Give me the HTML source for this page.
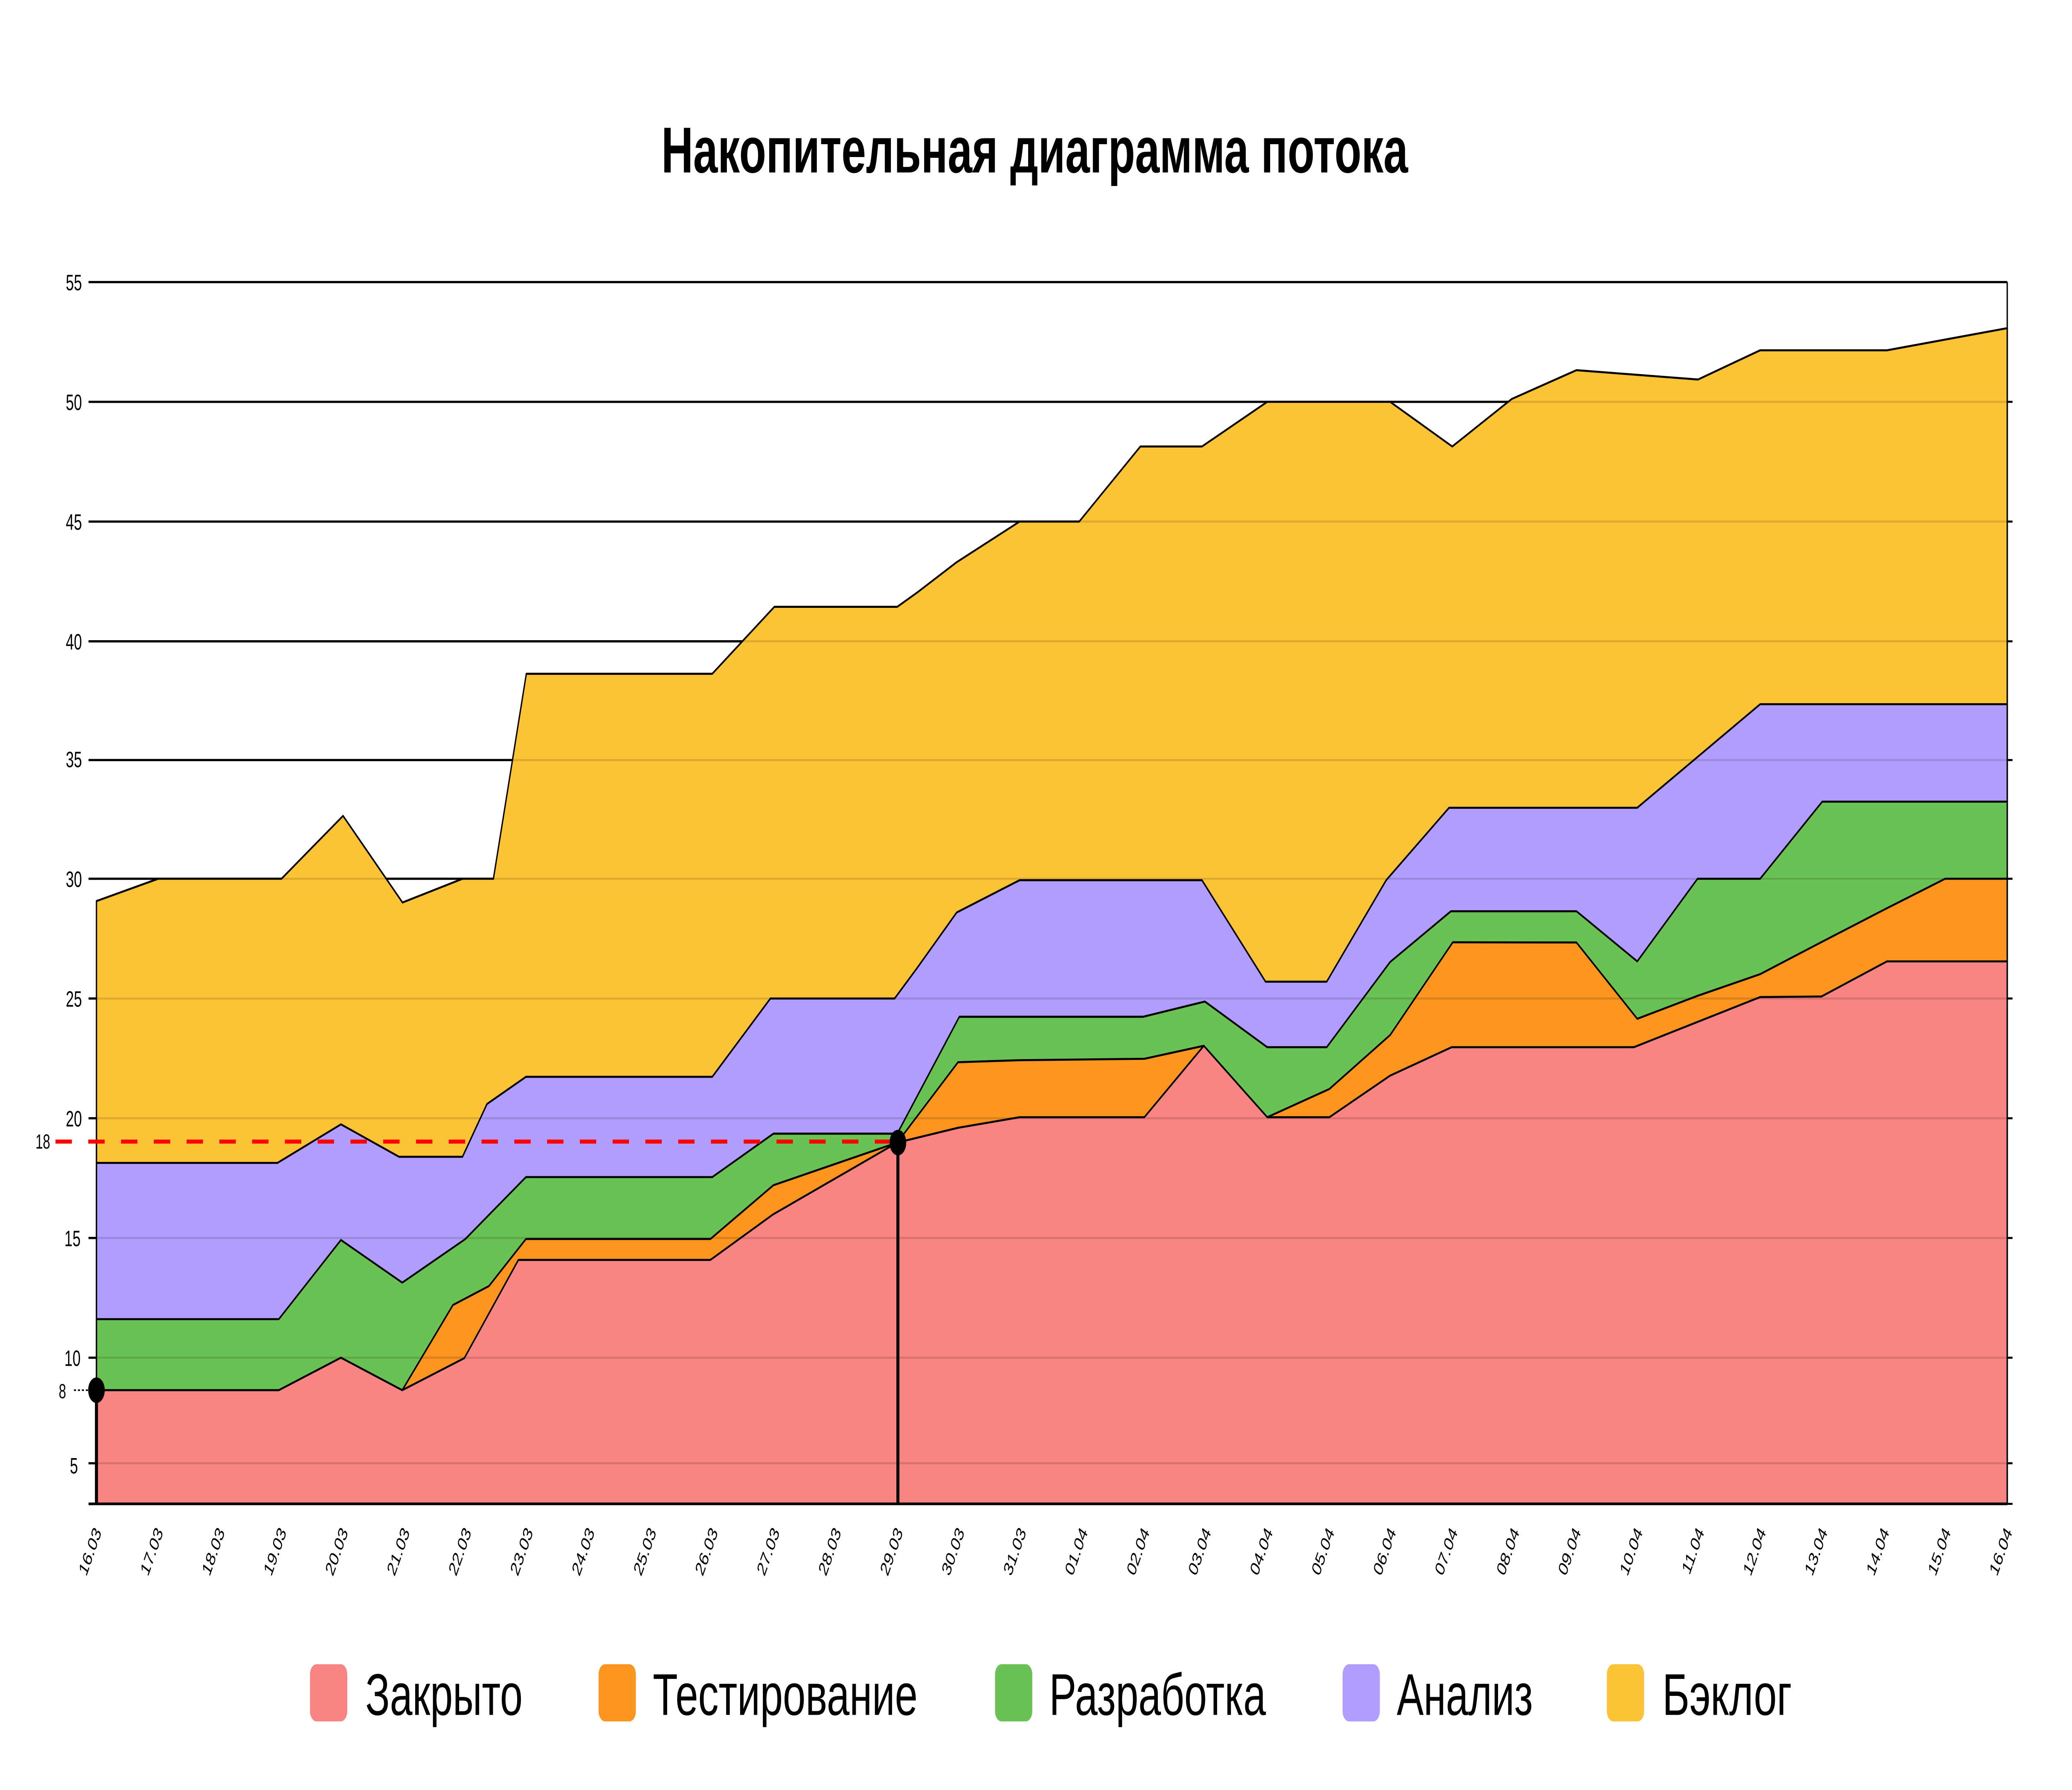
<!DOCTYPE html>
<html><head><meta charset="utf-8"><style>
html,body{margin:0;padding:0;background:#fff;overflow:hidden;width:100vw;height:100vh;}
svg{display:block;width:100vw;height:100vh;}
</style></head><body>
<svg viewBox="0 0 1568 882" preserveAspectRatio="none" xmlns="http://www.w3.org/2000/svg" font-family="Liberation Sans, sans-serif">
<rect width="1568" height="882" fill="#fff"/>
<text x="783" y="85" text-anchor="middle" font-size="32" font-weight="bold" textLength="565" lengthAdjust="spacingAndGlyphs">Накопительная диаграмма потока</text>
<g stroke="#000" stroke-width="1.1">
<line x1="67" y1="139" x2="1519" y2="139"/><line x1="67" y1="198" x2="1519" y2="198"/>
<line x1="67" y1="257" x2="1519" y2="257"/><line x1="67" y1="316" x2="1519" y2="316"/>
<line x1="67" y1="374.5" x2="1519" y2="374.5"/><line x1="67" y1="433" x2="1519" y2="433"/>
<line x1="67" y1="492" x2="1519" y2="492"/><line x1="67" y1="551" x2="1519" y2="551"/>
<line x1="67" y1="610" x2="1519" y2="610"/><line x1="67" y1="669" x2="1519" y2="669"/>
<line x1="67" y1="721" x2="1519" y2="721"/>
</g>
<g stroke="#000" stroke-width="1" stroke-linejoin="round">
<polygon fill="#fdc337" points="73,444 119.7,433 213,433 259.6,402 304.6,444.7 350,433 373.4,433 398.3,332 539,332 586,299 679,299 694,292 724,277 771.6,257 816.7,257 863,220 909.6,220 959,198 1052,198 1099,220 1144,196.6 1193,182.4 1285,187 1332,172.6 1428,172.6 1519,161.7 1519,741 73,741"/>
<polygon fill="#b19dfd" points="73,573 210,573 258,554 302,570 350,570 368.5,544 398,530.6 539,530.6 583,492 677,492 694,477 724,449.6 771.6,433.7 909.6,433.7 957.7,483.7 1004,483.7 1049,433.7 1096.6,398 1239,398 1332,347 1519,347 1519,741 73,741"/>
<polygon fill="#6bc254" points="73,650 211,650 258,611 304.4,632 352,610.6 398,580 539,580 585.3,558.6 679,558.6 726,501 865,501 911.8,493.5 959,516 1004,516 1052,474 1098,449 1193,449 1239,473.7 1284.6,433 1332,433 1379,395 1519,395 1519,741 73,741"/>
<polygon fill="#fb951f" points="73,685 211,685 258,669 304.4,685 342.8,643 370,633.7 398,610.5 537.6,610.5 585.3,584 679,563 725,523.4 771.6,522.4 866,521.7 911,515.3 959,550.5 1006,536.6 1052,510 1099.4,464.3 1193,464.4 1239,502 1285,490.6 1332,480 1379,464 1428,447.5 1472,433 1519,433 1519,741 73,741"/>
<polygon fill="#f88484" points="73,685 211,685 258,669 304.4,685 351.4,669.2 392.3,620.8 537.6,620.8 585,598.4 679,563 725,555.7 771.6,550.5 866,550.5 911,515.3 959,550.5 1006,550.5 1052,530 1098.5,516 1236.4,516 1332,491.3 1378.4,491 1428,473.7 1519,473.7 1519,741 73,741"/>
</g>
<g stroke="#000" stroke-opacity="0.13" stroke-width="1">
<line x1="73" y1="198" x2="1519" y2="198"/><line x1="73" y1="257" x2="1519" y2="257"/>
<line x1="73" y1="316" x2="1519" y2="316"/><line x1="73" y1="374.5" x2="1519" y2="374.5"/>
<line x1="73" y1="433" x2="1519" y2="433"/><line x1="73" y1="492" x2="1519" y2="492"/>
<line x1="73" y1="551" x2="1519" y2="551"/><line x1="73" y1="610" x2="1519" y2="610"/>
<line x1="73" y1="669" x2="1519" y2="669"/><line x1="73" y1="721" x2="1519" y2="721"/>
</g>
<g stroke="#000" stroke-width="1">
<line x1="1519" y1="139" x2="1519" y2="741"/>
<line x1="1519" y1="198" x2="1523" y2="198"/><line x1="1519" y1="257" x2="1523" y2="257"/>
<line x1="1519" y1="316" x2="1523" y2="316"/><line x1="1519" y1="374.5" x2="1523" y2="374.5"/>
<line x1="1519" y1="433" x2="1523" y2="433"/><line x1="1519" y1="492" x2="1523" y2="492"/>
<line x1="1519" y1="551" x2="1523" y2="551"/><line x1="1519" y1="610" x2="1523" y2="610"/>
<line x1="1519" y1="669" x2="1523" y2="669"/><line x1="1519" y1="721" x2="1523" y2="721"/>
<line x1="1519" y1="741" x2="1523" y2="741"/>
<line x1="67" y1="610" x2="73" y2="610"/><line x1="67" y1="669" x2="73" y2="669"/><line x1="67" y1="721" x2="73" y2="721"/>
</g>
<line x1="67" y1="741" x2="1519" y2="741" stroke="#000" stroke-width="1.3"/>
<line x1="73" y1="551" x2="73" y2="741" stroke="#000" stroke-width="1"/>
<g font-size="11" text-anchor="end" fill="#000">
<text x="62" y="143">55</text><text x="62" y="202">50</text><text x="62" y="261">45</text>
<text x="62" y="320">40</text><text x="62" y="378">35</text><text x="62" y="437">30</text>
<text x="62" y="496">25</text><text x="62" y="555">20</text><text x="61" y="614">15</text>
<text x="61" y="673">10</text><text x="59" y="726">5</text>
<text x="38" y="566" font-size="10">18</text><text x="50" y="689" font-size="10">8</text>
</g>
<line x1="42" y1="562.5" x2="679" y2="562.5" stroke="#f00" stroke-width="2" stroke-dasharray="12.4,12.4"/>
<line x1="56" y1="685" x2="73" y2="685" stroke="#000" stroke-width="0.8" stroke-dasharray="1.5,1.5"/>
<line x1="73" y1="685" x2="73" y2="741" stroke="#000" stroke-width="2.3"/>
<line x1="679.5" y1="563" x2="679.5" y2="741" stroke="#000" stroke-width="2.3"/>
<circle cx="73" cy="685" r="6.3" fill="#000"/>
<circle cx="679.5" cy="563" r="6.3" fill="#000"/>
<g font-size="10" text-anchor="end" fill="#000">
<text transform="translate(77,755) rotate(-62)">16.03</text>
<text transform="translate(123.7,755) rotate(-62)">17.03</text>
<text transform="translate(170.3,755) rotate(-62)">18.03</text>
<text transform="translate(217,755) rotate(-62)">19.03</text>
<text transform="translate(263.6,755) rotate(-62)">20.03</text>
<text transform="translate(310.3,755) rotate(-62)">21.03</text>
<text transform="translate(356.9,755) rotate(-62)">22.03</text>
<text transform="translate(403.6,755) rotate(-62)">23.03</text>
<text transform="translate(450.2,755) rotate(-62)">24.03</text>
<text transform="translate(496.9,755) rotate(-62)">25.03</text>
<text transform="translate(543.5,755) rotate(-62)">26.03</text>
<text transform="translate(590.2,755) rotate(-62)">27.03</text>
<text transform="translate(636.8,755) rotate(-62)">28.03</text>
<text transform="translate(683.5,755) rotate(-62)">29.03</text>
<text transform="translate(730.1,755) rotate(-62)">30.03</text>
<text transform="translate(776.8,755) rotate(-62)">31.03</text>
<text transform="translate(823.4,755) rotate(-62)">01.04</text>
<text transform="translate(870.1,755) rotate(-62)">02.04</text>
<text transform="translate(916.7,755) rotate(-62)">03.04</text>
<text transform="translate(963.4,755) rotate(-62)">04.04</text>
<text transform="translate(1010,755) rotate(-62)">05.04</text>
<text transform="translate(1056.7,755) rotate(-62)">06.04</text>
<text transform="translate(1103.3,755) rotate(-62)">07.04</text>
<text transform="translate(1150,755) rotate(-62)">08.04</text>
<text transform="translate(1196.6,755) rotate(-62)">09.04</text>
<text transform="translate(1243.3,755) rotate(-62)">10.04</text>
<text transform="translate(1289.9,755) rotate(-62)">11.04</text>
<text transform="translate(1336.6,755) rotate(-62)">12.04</text>
<text transform="translate(1383.2,755) rotate(-62)">13.04</text>
<text transform="translate(1429.9,755) rotate(-62)">14.04</text>
<text transform="translate(1476.5,755) rotate(-62)">15.04</text>
<text transform="translate(1523,755) rotate(-62)">16.04</text>
</g>
<g font-size="29" fill="#000">
<rect x="234.6" y="820" width="28.2" height="28.2" rx="5" fill="#f88484"/>
<text x="276.5" y="845" textLength="119" lengthAdjust="spacingAndGlyphs">Закрыто</text>
<rect x="453" y="820" width="28.2" height="28.2" rx="5" fill="#fb951f"/>
<text x="494" y="845" textLength="200.4" lengthAdjust="spacingAndGlyphs">Тестирование</text>
<rect x="753" y="820" width="28.2" height="28.2" rx="5" fill="#6bc254"/>
<text x="794" y="845" textLength="164" lengthAdjust="spacingAndGlyphs">Разработка</text>
<rect x="1016" y="820" width="28.2" height="28.2" rx="5" fill="#b19dfd"/>
<text x="1057" y="845" textLength="103" lengthAdjust="spacingAndGlyphs">Анализ</text>
<rect x="1216" y="820" width="28.2" height="28.2" rx="5" fill="#fdc337"/>
<text x="1258" y="845" textLength="98" lengthAdjust="spacingAndGlyphs">Бэклог</text>
</g>
</svg>
</body></html>
